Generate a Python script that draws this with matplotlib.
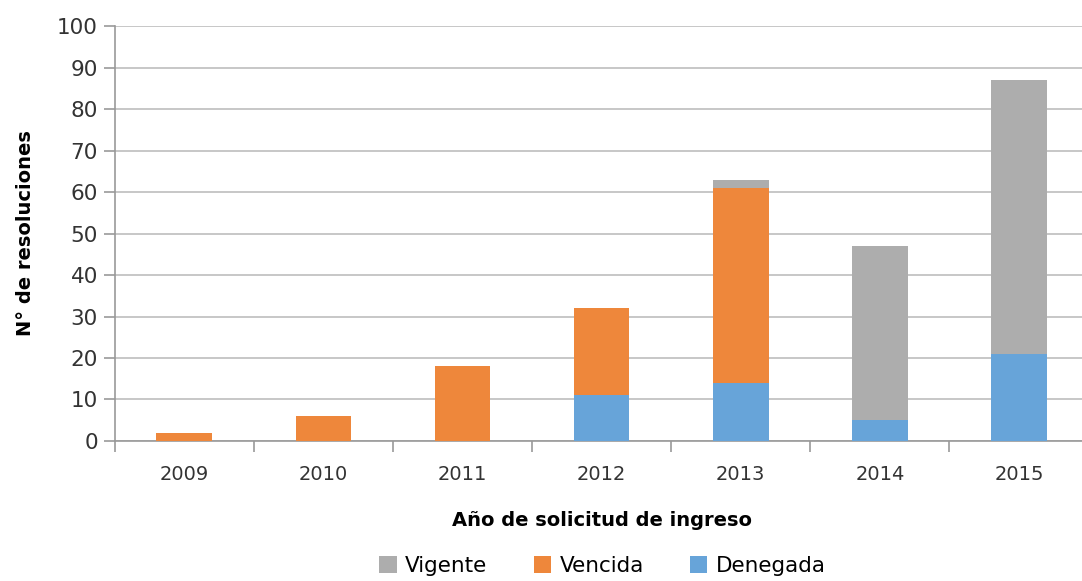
import numpy as np
import matplotlib
matplotlib.use("Agg")
from matplotlib import pyplot as plt

# datos
anios = ['2009', '2010', '2011', '2012', '2013', '2014', '2015']
denegada = [0, 0, 0, 11, 14, 5, 21]
vencida = [2, 6, 18, 21, 47, 0, 0]
vigente = [0, 0, 0, 0, 2, 42, 66]

col_vig = '#ADADAD'
col_ven = '#EE873B'
col_den = '#67A4D9'

fig = plt.figure(figsize=(10.82, 5.81), dpi=100)
ax = fig.add_axes([0.106, 0.241, 0.900, 0.714])

x = np.arange(len(anios))
ancho = 0.4
den = np.array(denegada)
ven = np.array(vencida)
vig = np.array(vigente)

ax.bar(x, den, ancho, color=col_den, label='Denegada', zorder=3)
ax.bar(x, ven, ancho, bottom=den, color=col_ven, label='Vencida', zorder=3)
ax.bar(x, vig, ancho, bottom=den + ven, color=col_vig, label='Vigente', zorder=3)

ax.set_xlim(-0.5, len(anios) - 0.5)
ax.set_ylim(0, 100)
ax.set_yticks(range(0, 101, 10))
ax.yaxis.grid(True, color='#BDBDBD', linewidth=1.2, zorder=0)

ax.set_xticks(x)
ax.set_xticklabels(anios, fontsize=14, color='#333333')
ax.set_xticks(np.arange(-0.5, len(anios), 1.0), minor=True)
ax.tick_params(axis='x', which='major', length=0, pad=17)
ax.tick_params(axis='x', which='minor', length=8, color='#999999', width=1.2)
ax.tick_params(axis='y', length=8, color='#999999', width=1.2, pad=4,
               labelsize=15.5, labelcolor='#333333')

for s in ['top', 'right']:
    ax.spines[s].set_visible(False)
for s in ['left', 'bottom']:
    ax.spines[s].set_color('#999999')
    ax.spines[s].set_linewidth(1.2)

ax.set_xlabel('Año de solicitud de ingreso', fontsize=14, fontweight='bold', labelpad=20)
ax.set_ylabel('N° de resoluciones', fontsize=14, fontweight='bold', labelpad=16)

h, l = ax.get_legend_handles_labels()
leg = fig.legend(h[::-1], l[::-1], loc='center', bbox_to_anchor=(0.557, 0.026), ncol=3,
                 frameon=False, fontsize=15.5, handlelength=0.8, handleheight=0.8,
                 handletextpad=0.4, columnspacing=2.15)

fig.savefig('out.png', dpi=100)
